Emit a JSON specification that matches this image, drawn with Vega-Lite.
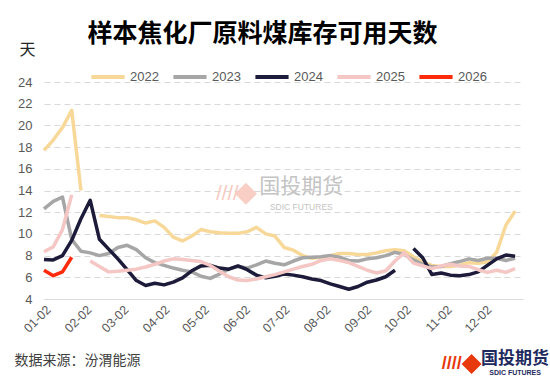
{
  "$schema": "https://vega.github.io/schema/vega-lite/v6.json",
  "width": 479,
  "height": 217,
  "autosize": {"type": "none"},
  "padding": {"left": 44, "top": 82, "right": 27, "bottom": 81},
  "background": "white",
  "title": {"text": "样本焦化厂原料煤库存可用天数", "font": "Noto Sans CJK SC", "fontSize": 25, "fontWeight": "bold", "color": "#000000", "anchor": "middle", "frame": "group", "dx": -21, "dy": 16, "offset": 10},
  "resolve": {"axis": {"x": "independent", "y": "independent"}},
  "config": {
    "view": {"stroke": null},
    "font": "Liberation Sans",
    "legend": {"orient": "none", "legendX": 45, "legendY": -24, "direction": "horizontal", "columns": 5, "columnPadding": 6, "symbolType": "stroke", "symbolStrokeWidth": 4, "symbolSize": 1100, "labelFontSize": 13, "labelColor": "#595959", "labelOffset": 3, "title": null}
  },
  "datasets": {
    "coal": [
      {"date": "2021-01-02", "2022": 17.7, "2023": 12.3, "2024": 7.65, "2025": 8.35, "2026": 6.65},
      {"date": "2021-01-09", "2022": 18.65, "2023": 13.0, "2024": 7.6, "2025": 8.8, "2026": 6.15},
      {"date": "2021-01-16", "2022": 19.8, "2023": 13.4, "2024": 8.0, "2025": 10.4, "2026": 6.5},
      {"date": "2021-01-23", "2022": 21.4, "2023": 9.5, "2024": 9.4, "2025": 13.6, "2026": 7.85},
      {"date": "2021-01-30", "2022": 14.0, "2023": 8.4, "2024": 11.4, "2025": null},
      {"date": "2021-02-06", "2022": null, "2023": 8.25, "2024": 13.1, "2025": 7.5},
      {"date": "2021-02-13", "2022": 11.7, "2023": 8.0, "2024": 9.5, "2025": 7.0},
      {"date": "2021-02-20", "2022": 11.6, "2023": 8.2, "2024": 8.6, "2025": 6.5},
      {"date": "2021-02-27", "2022": 11.5, "2023": 8.75, "2024": 7.7, "2025": 6.55},
      {"date": "2021-03-06", "2022": 11.5, "2023": 8.95, "2024": 6.7, "2025": 6.65},
      {"date": "2021-03-13", "2022": 11.3, "2023": 8.55, "2024": 5.7, "2025": 6.75},
      {"date": "2021-03-20", "2022": 11.0, "2023": 7.8, "2024": 5.25, "2025": 6.95},
      {"date": "2021-03-27", "2022": 11.2, "2023": 7.35, "2024": 5.45, "2025": 7.2},
      {"date": "2021-04-03", "2022": 10.6, "2023": 7.1, "2024": 5.3, "2025": 7.5},
      {"date": "2021-04-10", "2022": 9.7, "2023": 6.85, "2024": 5.55, "2025": 7.7},
      {"date": "2021-04-17", "2022": 9.35, "2023": 6.65, "2024": 5.95, "2025": 7.65},
      {"date": "2021-04-24", "2022": 9.8, "2023": 6.5, "2024": 6.6, "2025": 7.55},
      {"date": "2021-05-01", "2022": 10.4, "2023": 6.1, "2024": 7.05, "2025": 7.45},
      {"date": "2021-05-08", "2022": 10.2, "2023": 5.9, "2024": 7.1, "2025": 7.1},
      {"date": "2021-05-15", "2022": 10.1, "2023": 6.3, "2024": 6.85, "2025": 6.55},
      {"date": "2021-05-22", "2022": 10.05, "2023": 6.75, "2024": 6.75, "2025": 6.05},
      {"date": "2021-05-29", "2022": 10.05, "2023": 7.0, "2024": 7.05, "2025": 5.75},
      {"date": "2021-06-05", "2022": 10.2, "2023": 6.85, "2024": 6.7, "2025": 5.7},
      {"date": "2021-06-12", "2022": 10.6, "2023": 7.15, "2024": 6.2, "2025": 5.85},
      {"date": "2021-06-19", "2022": 10.0, "2023": 7.5, "2024": 5.95, "2025": 6.05},
      {"date": "2021-06-26", "2022": 9.8, "2023": 7.3, "2024": 6.1, "2025": 6.25},
      {"date": "2021-07-03", "2022": 8.75, "2023": 7.15, "2024": 6.3, "2025": 6.5},
      {"date": "2021-07-10", "2022": 8.5, "2023": 7.5, "2024": 6.2, "2025": 6.75},
      {"date": "2021-07-17", "2022": 8.0, "2023": 7.8, "2024": 6.05, "2025": 7.0},
      {"date": "2021-07-24", "2022": 7.75, "2023": 7.85, "2024": 5.85, "2025": 7.2},
      {"date": "2021-07-31", "2022": 7.85, "2023": 7.9, "2024": 5.7, "2025": 7.55},
      {"date": "2021-08-07", "2022": 8.0, "2023": 8.0, "2024": 5.4, "2025": 7.7},
      {"date": "2021-08-14", "2022": 8.2, "2023": 7.85, "2024": 5.15, "2025": 7.55},
      {"date": "2021-08-21", "2022": 8.2, "2023": 7.55, "2024": 4.9, "2025": 7.35},
      {"date": "2021-08-28", "2022": 8.1, "2023": 7.5, "2024": 5.15, "2025": 7.0},
      {"date": "2021-09-04", "2022": 8.1, "2023": 7.7, "2024": 5.55, "2025": 6.65},
      {"date": "2021-09-11", "2022": 8.25, "2023": 7.8, "2024": 5.75, "2025": 6.4},
      {"date": "2021-09-18", "2022": 8.45, "2023": 8.0, "2024": 6.05, "2025": 6.6},
      {"date": "2021-09-25", "2022": 8.55, "2023": 8.3, "2024": 6.65, "2025": 7.5},
      {"date": "2021-10-02", "2022": 8.45, "2023": 8.1, "2024": null, "2025": 8.25},
      {"date": "2021-10-09", "2022": 7.9, "2023": 7.6, "2024": 8.65, "2025": 7.3},
      {"date": "2021-10-16", "2022": 7.4, "2023": 7.2, "2024": 7.8, "2025": 7.05},
      {"date": "2021-10-23", "2022": 7.1, "2023": 6.95, "2024": 6.25, "2025": 6.8},
      {"date": "2021-10-30", "2022": 7.0, "2023": 7.0, "2024": 6.4, "2025": 7.05},
      {"date": "2021-11-06", "2022": 7.0, "2023": 7.25, "2024": 6.2, "2025": 7.2},
      {"date": "2021-11-13", "2022": 7.1, "2023": 7.45, "2024": 6.15, "2025": 7.05},
      {"date": "2021-11-20", "2022": 7.35, "2023": 7.7, "2024": 6.25, "2025": 7.0},
      {"date": "2021-11-27", "2022": 7.3, "2023": 7.55, "2024": 6.5, "2025": 6.7},
      {"date": "2021-12-04", "2022": 7.4, "2023": 7.75, "2024": 7.1, "2025": 6.45},
      {"date": "2021-12-11", "2022": 8.3, "2023": 7.75, "2024": 7.7, "2025": 6.65},
      {"date": "2021-12-18", "2022": 10.8, "2023": 7.55, "2024": 8.05, "2025": 6.45},
      {"date": "2021-12-25", "2022": 12.1, "2023": 7.75, "2024": 7.95, "2025": 6.8}
    ]
  },
  "layer": [
    {
      "data": {"name": "coal"},
      "transform": [{"fold": ["2022", "2023", "2024", "2025", "2026"], "as": ["year", "days"]}],
      "mark": {"type": "line", "strokeWidth": 3.5, "strokeJoin": "round", "strokeCap": "butt"},
      "encoding": {
        "x": {
          "field": "date", "type": "temporal",
          "scale": {"type": "utc", "domain": [{"year": 2021, "month": 1, "date": 2, "utc": true}, {"year": 2021, "month": 12, "date": 31, "utc": true}]},
          "axis": {
            "values": [
              {"year": 2021, "month": 1, "date": 2, "utc": true},
              {"year": 2021, "month": 2, "date": 2, "utc": true},
              {"year": 2021, "month": 3, "date": 2, "utc": true},
              {"year": 2021, "month": 4, "date": 2, "utc": true},
              {"year": 2021, "month": 5, "date": 2, "utc": true},
              {"year": 2021, "month": 6, "date": 2, "utc": true},
              {"year": 2021, "month": 7, "date": 2, "utc": true},
              {"year": 2021, "month": 8, "date": 2, "utc": true},
              {"year": 2021, "month": 9, "date": 2, "utc": true},
              {"year": 2021, "month": 10, "date": 2, "utc": true},
              {"year": 2021, "month": 11, "date": 2, "utc": true},
              {"year": 2021, "month": 12, "date": 2, "utc": true}
            ],
            "labelExpr": "utcFormat(datum.value, '%m-%d')",
            "labelAngle": -45, "labelFontSize": 12.5, "labelColor": "#595959", "labelPadding": 4,
            "ticks": false, "grid": false, "domainColor": "#d9d9d9", "domainWidth": 1.2,
            "title": "数据来源：汾渭能源", "titleFont": "Noto Sans CJK SC", "titleFontSize": 14, "titleFontWeight": "normal", "titleColor": "#404040",
            "titleX": -30, "titleY": 61, "titleAlign": "left", "titleBaseline": "middle", "labelOverlap": false
          }
        },
        "y": {
          "field": "days", "type": "quantitative",
          "scale": {"domain": [4, 24], "nice": false, "zero": false},
          "axis": {
            "values": [4, 6, 8, 10, 12, 14, 16, 18, 20, 22, 24],
            "labelFontSize": 13, "labelColor": "#595959", "labelPadding": 12, "labelOverlap": false,
            "ticks": false, "domain": false, "gridColor": "#d9d9d9", "gridDash": [6, 4], "gridWidth": 1.2,
            "title": "天", "titleFont": "Noto Sans CJK SC", "titleFontSize": 16, "titleFontWeight": "normal", "titleColor": "#262626",
            "titleAngle": 0, "titleX": -17, "titleY": -33, "titleAlign": "center", "titleBaseline": "middle"
          }
        },
        "color": {
          "field": "year", "type": "nominal",
          "scale": {"domain": ["2022", "2023", "2024", "2025", "2026"], "range": ["#F8D898", "#A6A6A6", "#1C1B3A", "#F4C7C4", "#FF2A0A"]}
        }
      }
    },
    {
      "data": {"values": [{}]},
      "mark": {"type": "text", "text": "国投期货", "font": "Noto Sans CJK SC", "fontSize": 21, "color": "#c4c4c4", "align": "center", "baseline": "middle"},
      "encoding": {
        "x": {"datum": {"year": 2021, "month": 7, "date": 16, "utc": true}, "type": "temporal", "axis": null},
        "y": {"datum": 14.3, "type": "quantitative", "axis": null}
      }
    },
    {
      "data": {"values": [{}]},
      "mark": {"type": "text", "text": "SDIC FUTURES", "fontSize": 8.5, "color": "#c4c4c4", "align": "center", "baseline": "middle"},
      "encoding": {
        "x": {"datum": {"year": 2021, "month": 7, "date": 16, "utc": true}, "type": "temporal", "axis": null},
        "y": {"datum": 12.5, "type": "quantitative", "axis": null}
      }
    },
    {
      "data": {"values": [{}]},
      "mark": {"type": "point", "shape": "diamond", "filled": true, "size": 484, "color": "#F8C9BE", "opacity": 0.9},
      "encoding": {
        "x": {"datum": {"year": 2021, "month": 6, "date": 4, "utc": true}, "type": "temporal", "axis": null},
        "y": {"datum": 13.7, "type": "quantitative", "axis": null}
      }
    },
    {
      "data": {"values": [{}]},
      "mark": {"type": "text", "text": "////", "fontSize": 20, "color": "#F8C9BE", "align": "center", "baseline": "middle"},
      "encoding": {
        "x": {"datum": {"year": 2021, "month": 5, "date": 21, "utc": true}, "type": "temporal", "axis": null},
        "y": {"datum": 13.7, "type": "quantitative", "axis": null}
      }
    },
    {
      "data": {"values": [{}]},
      "mark": {"type": "text", "text": "国投期货", "font": "Noto Sans CJK SC", "fontSize": 17, "fontWeight": "bold", "color": "#1E2A5E", "align": "center", "baseline": "middle"},
      "encoding": {
        "x": {"datum": {"year": 2021, "month": 12, "date": 25, "utc": true}, "type": "temporal", "axis": null},
        "y": {"datum": -1.5, "type": "quantitative", "axis": null}
      }
    },
    {
      "data": {"values": [{}]},
      "mark": {"type": "text", "text": "SDIC FUTURES", "fontSize": 7, "fontWeight": "bold", "color": "#1E2A5E", "align": "center", "baseline": "middle"},
      "encoding": {
        "x": {"datum": {"year": 2021, "month": 12, "date": 25, "utc": true}, "type": "temporal", "axis": null},
        "y": {"datum": -2.85, "type": "quantitative", "axis": null}
      }
    },
    {
      "data": {"values": [{}]},
      "mark": {"type": "point", "shape": "diamond", "filled": true, "size": 400, "color": "#E8380D", "opacity": 1},
      "encoding": {
        "x": {"datum": {"year": 2021, "month": 11, "date": 22, "utc": true}, "type": "temporal", "axis": null},
        "y": {"datum": -2.0, "type": "quantitative", "axis": null}
      }
    },
    {
      "data": {"values": [{}]},
      "mark": {"type": "text", "text": "////", "fontSize": 18, "fontWeight": "bold", "color": "#E8380D", "align": "center", "baseline": "middle"},
      "encoding": {
        "x": {"datum": {"year": 2021, "month": 11, "date": 7, "utc": true}, "type": "temporal", "axis": null},
        "y": {"datum": -2.0, "type": "quantitative", "axis": null}
      }
    }
  ]
}
